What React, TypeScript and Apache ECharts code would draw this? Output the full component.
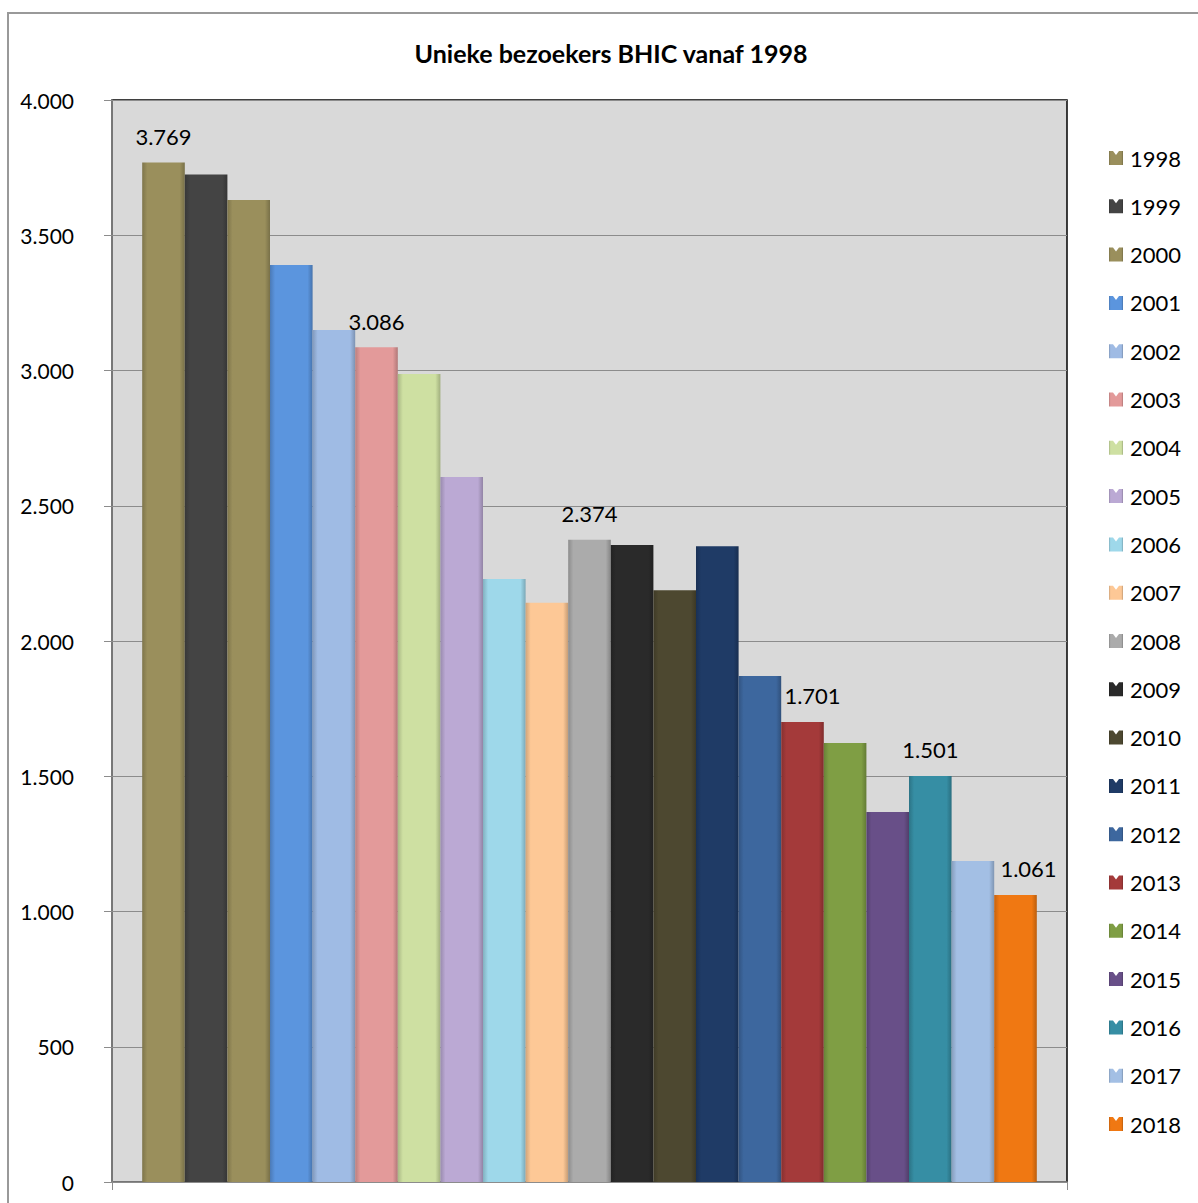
import React, { useEffect, useRef } from "react";
import * as echarts from "echarts";

const years = ["1998","1999","2000","2001","2002","2003","2004","2005","2006","2007","2008","2009","2010","2011","2012","2013","2014","2015","2016","2017","2018"];
const visitors = [3769,3725,3630,3390,3150,3086,2987,2606,2229,2141,2374,2355,2188,2350,1871,1701,1623,1368,1501,1187,1061];
const barColors = ["#9a8f5c","#444444","#9a8f5c","#5b95de","#9fbbe4","#e39a9a","#cee0a2","#bba9d4","#9ed8ea","#fdc896","#ababab","#2a2a2a","#4d4830","#1f3b66","#3d679e","#a43a3a","#7f9e44","#684f88","#368ea4","#a3bfe4","#f07812"];
const labeledYears = ["1998","2003","2008","2013","2016","2018"];
const yTicks = [0, 500, 1000, 1500, 2000, 2500, 3000, 3500, 4000];
const title = "Unieke bezoekers BHIC vanaf 1998";

const fmt = (v: number) => String(v).replace(/\B(?=(\d{3})+(?!\d))/g, ".");

function shade(hex: string, f: number) {
  const n = parseInt(hex.slice(1), 16);
  const r = Math.min(255, Math.round(((n >> 16) & 255) * f));
  const g = Math.min(255, Math.round(((n >> 8) & 255) * f));
  const b = Math.min(255, Math.round((n & 255) * f));
  return `rgb(${r},${g},${b})`;
}

const FONT = "Lato, 'Open Sans', sans-serif";
const ICON = "path://M0,0 L4,0 L7,4 L10,0 L14,0 L14,14 L0,14 Z";

export default function App() {
  const ref = useRef<HTMLDivElement>(null);
  useEffect(() => {
    if (!ref.current) return;
    const chart = echarts.init(ref.current, undefined, { renderer: "svg" });
    const labelOffsets: Record<string, number[]> = { "2013": [10, 0], "2018": [13, 0] };
    const series = years.map((y, i) => ({
      name: y,
      type: "bar",
      data: [visitors[i]],
      barWidth: 42.6,
      barGap: "0%",
      itemStyle: {
        color: new echarts.graphic.LinearGradient(0, 0, 1, 0, [
          { offset: 0, color: shade(barColors[i], 0.82) },
          { offset: 0.12, color: barColors[i] },
          { offset: 0.88, color: barColors[i] },
          { offset: 1, color: shade(barColors[i], 0.78) },
        ]),
      },
      label: {
        show: labeledYears.includes(y),
        position: "top",
        distance: 15,
        offset: labelOffsets[y] || [0, 0],
        formatter: (p: any) => fmt(p.value),
        color: "#000",
        fontFamily: FONT,
        fontSize: 22,
      },
    }));
    chart.setOption({
      animation: false,
      backgroundColor: "#fff",
      title: {
        text: title,
        left: 606,
        textAlign: "center",
        top: 35,
        textStyle: { fontFamily: FONT, fontSize: 25, fontWeight: "bold", color: "#000" },
      },
      graphic: [
        {
          type: "rect",
          shape: { x: 8, y: 13, width: 1300, height: 1300 },
          style: { fill: "none", stroke: "#999", lineWidth: 2 },
          silent: true,
        },
      ],
      legend: {
        orient: "vertical",
        left: 1109,
        top: 146,
        padding: 0,
        itemWidth: 14,
        itemHeight: 14,
        itemGap: 24.3,
        icon: ICON,
        data: years,
        textStyle: { fontFamily: FONT, fontSize: 22, lineHeight: 24, color: "#000", padding: [0, 0, 0, 2] },
      },
      grid: {
        left: 112,
        top: 100,
        width: 955,
        height: 1082,
        show: true,
        backgroundColor: "#d9d9d9",
        borderColor: "#000",
        borderWidth: 1.5,
      },
      xAxis: {
        type: "category",
        data: [""],
        axisLine: { lineStyle: { color: "#8c8c8c", width: 1.5 } },
        axisTick: { show: true, length: 8, lineStyle: { color: "#8c8c8c" } },
        axisLabel: { show: false },
      },
      yAxis: {
        type: "value",
        min: yTicks[0],
        max: yTicks[yTicks.length - 1],
        interval: 500,
        axisLine: { show: true, lineStyle: { color: "#8c8c8c", width: 1.5 } },
        axisTick: { show: true, length: 8, lineStyle: { color: "#8c8c8c" } },
        splitLine: { lineStyle: { color: "#8c8c8c", width: 1.2 } },
        axisLabel: {
          margin: 38,
          formatter: (v: number) => fmt(v),
          fontFamily: FONT,
          fontSize: 21,
          color: "#000",
        },
      },
      series,
    });
    return () => chart.dispose();
  }, []);
  return <div ref={ref} style={{ position: "absolute", left: 0, top: 0, width: 1198, height: 1203 }} />;
}
